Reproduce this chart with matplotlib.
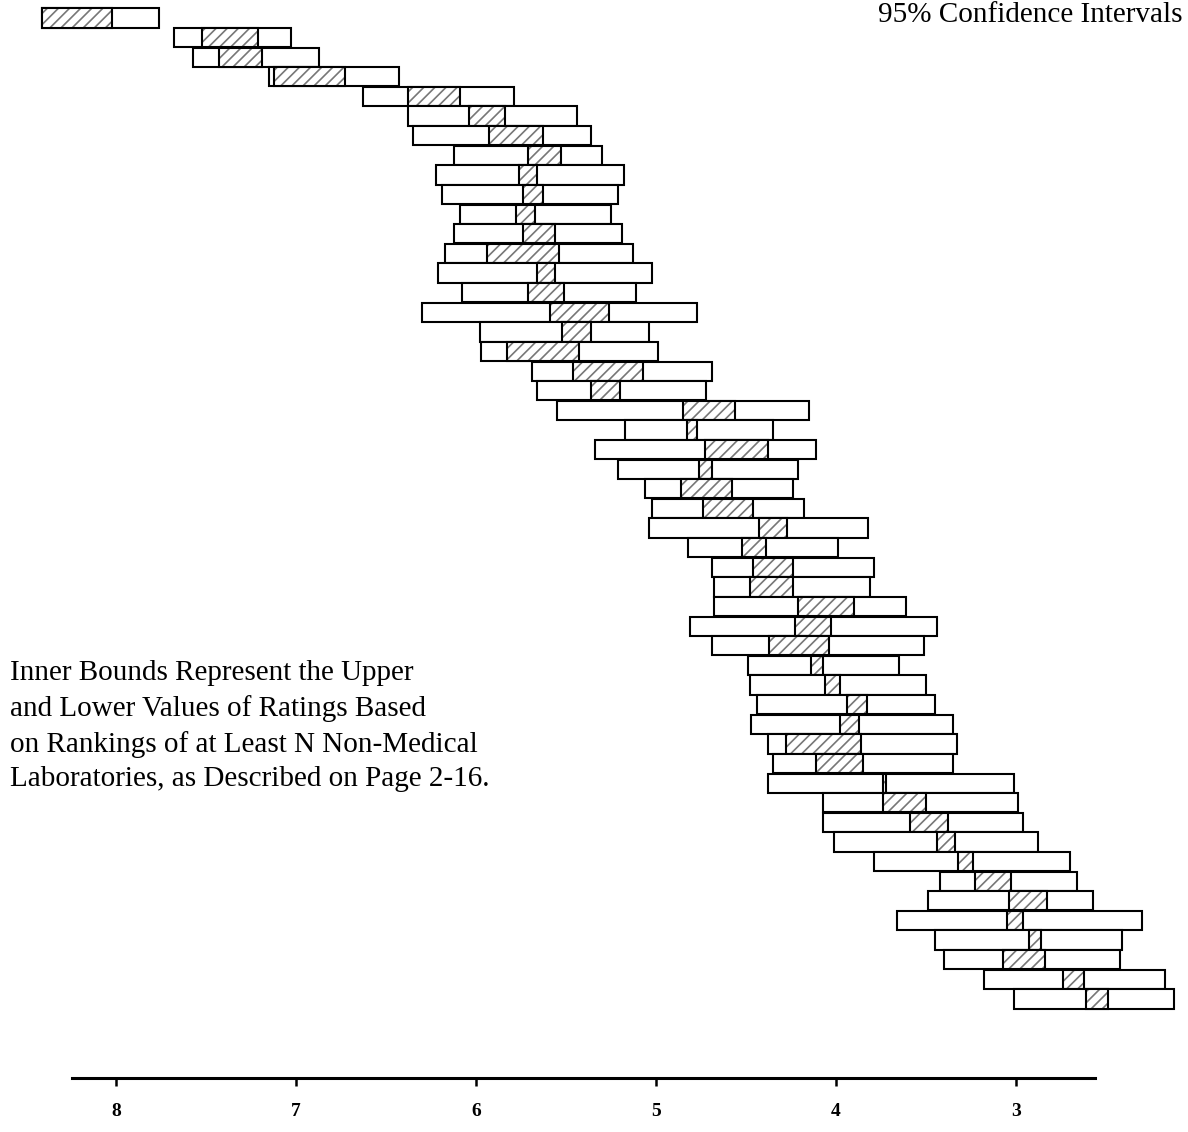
import matplotlib
matplotlib.use("Agg")
import matplotlib.pyplot as plt
import numpy as np

plt.rcParams['hatch.linewidth'] = 1.2

# 95% confidence interval (outer) and inner bounds (hatched) for each laboratory row,
# values on the rating scale (8 at left, 3 at right)
outer_left = [8.41, 7.68, 7.57, 7.15, 6.63, 6.38, 6.35, 6.12, 6.22, 6.19,
              6.09, 6.12, 6.17, 6.21, 6.08, 6.30, 5.98, 5.97, 5.69, 5.66,
              5.55, 5.17, 5.34, 5.21, 5.06, 5.02, 5.04, 4.82, 4.69, 4.68,
              4.68, 4.81, 4.69, 4.49, 4.48, 4.44, 4.47, 4.38, 4.35, 4.38,
              4.07, 4.07, 4.01, 3.79, 3.42, 3.49, 3.66, 3.45, 3.40, 3.18, 3.01]
inner_left = [8.41, 7.52, 7.43, 7.12, 6.38, 6.04, 5.93, 5.71, 5.76, 5.74,
              5.78, 5.74, 5.94, 5.66, 5.71, 5.59, 5.52, 5.83, 5.46, 5.36,
              4.85, 4.83, 4.73, 4.76, 4.86, 4.74, 4.43, 4.52, 4.46, 4.48,
              4.21, 4.23, 4.37, 4.14, 4.06, 3.94, 3.98, 4.28, 4.11, 3.74,
              3.74, 3.59, 3.44, 3.32, 3.23, 3.04, 3.05, 2.93, 3.07, 2.74, 2.61]
inner_right = [8.02, 7.21, 7.19, 6.73, 6.09, 5.84, 5.63, 5.53, 5.66, 5.63,
               5.67, 5.56, 5.54, 5.56, 5.51, 5.26, 5.36, 5.43, 5.07, 5.20,
               4.56, 4.77, 4.38, 4.69, 4.58, 4.46, 4.27, 4.39, 4.24, 4.24,
               3.90, 4.03, 4.04, 4.07, 3.98, 3.83, 3.87, 3.86, 3.85, 3.72,
               3.50, 3.38, 3.34, 3.24, 3.03, 2.83, 2.96, 2.86, 2.84, 2.62, 2.49]
outer_right = [7.76, 7.03, 6.87, 6.43, 5.79, 5.44, 5.36, 5.30, 5.18, 5.21,
               5.25, 5.19, 5.13, 5.02, 5.11, 4.77, 5.04, 4.99, 4.69, 4.72,
               4.15, 4.35, 4.11, 4.21, 4.24, 4.18, 3.82, 3.99, 3.79, 3.81,
               3.61, 3.44, 3.51, 3.65, 3.50, 3.45, 3.35, 3.33, 3.35, 3.01,
               2.99, 2.96, 2.88, 2.70, 2.66, 2.57, 2.30, 2.41, 2.42, 2.17, 2.12]
tick_values = [8, 7, 6, 5, 4, 3]
tick_labels = ["8", "7", "6", "5", "4", "3"]

W, H = 1188, 1132
fig = plt.figure(figsize=(W / 100, H / 100), dpi=100)
fig.patch.set_facecolor("white")

ax_left, ax_right, ax_bottom_px = 72, 1095, 1078
ax = fig.add_axes([ax_left / W, 1 - ax_bottom_px / H, (ax_right - ax_left) / W, ax_bottom_px / H])
ax.set_facecolor("none")

n = len(outer_left)
rows = np.arange(n)
ax.set_xlim(8.244, 2.561)
ax.set_ylim(54.03, -0.917)

h = 0.98
lw = 1.5
for i in rows:
    L, a, b, R = outer_left[i], inner_left[i], inner_right[i], outer_right[i]
    z = 2 + i * 0.01
    ax.barh(i, L - R, left=R, height=h, facecolor="white", edgecolor="black",
            linewidth=lw, zorder=z, clip_on=False)
    ax.barh(i, a - b, left=b, height=h, facecolor="white", edgecolor="#777777",
            linewidth=0, hatch="///", zorder=z + 0.001, clip_on=False)
    ax.barh(i, a - b, left=b, height=h, fill=False, edgecolor="black",
            linewidth=lw, zorder=z + 0.002, clip_on=False)

for s in ["top", "left", "right"]:
    ax.spines[s].set_visible(False)
ax.spines["bottom"].set_linewidth(2.2)
ax.set_yticks([])
ax.set_xticks(tick_values)
ax.set_xticklabels(tick_labels, fontfamily="Liberation Serif", fontweight="bold", fontsize=14)
ax.tick_params(axis="x", direction="out", length=6, width=1.8, pad=12)

fig.text(10 / W, 1 - 660 / H,
         "Inner Bounds Represent the Upper\nand Lower Values of Ratings Based\n"
         "on Rankings of at Least N Non-Medical\nLaboratories, as Described on Page 2-16.",
         fontfamily="Liberation Serif", fontsize=21, va="top", ha="left", linespacing=1.42)

fig.text(1183 / W, 1 - 22 / H, "95% Confidence Intervals",
         fontfamily="Liberation Serif", fontsize=21, va="baseline", ha="right")

fig.savefig("out.png", dpi=100, facecolor="white")
